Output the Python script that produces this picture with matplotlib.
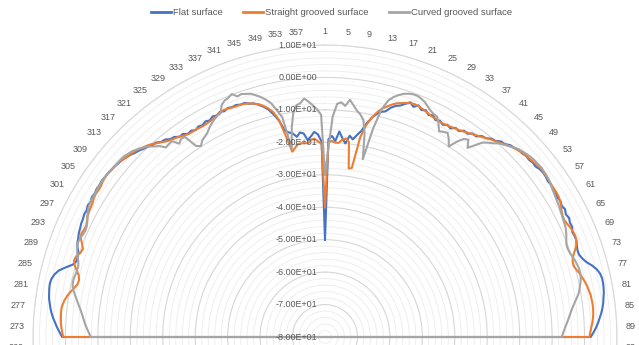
import numpy as np
import matplotlib
matplotlib.use("Agg")
import matplotlib.pyplot as plt
import matplotlib.transforms as mtransforms
from matplotlib.ticker import MultipleLocator
from matplotlib.lines import Line2D

# ---------------- data ----------------
categories = list(range(1, 361))
angle_labels = [str(k) for k in range(1, 361, 4)]
r_ticks = [-80, -70, -60, -50, -40, -30, -20, -10, 0, 10]
series_names = ["Flat surface", "Straight grooved surface", "Curved grooved surface"]

flat_surface = [
    # 1 - 91
    -50, -19, -18, -19.5, -16.5, -18.5, -20, -17.5, -18.5, -17,
    -15.5, -13, -11, -9.5, -8.5, -8, -6.5, -5.5, -5, -4,
    -3, -4, -3, -4, -3.5, -4.5, -4, -5, -4.5, -5.2,
    -4.5, -5, -4, -4.3, -3.3, -3.5, -2.5, -2.6, -1.4, -1.2,
    -0.2, 0.1, 1.1, 1.3, 2.2, 2.5, 3.1, 3.0, 3.4, 3.3,
    3.6, 3.5, 4.0, 4.2, 4.1, 3.8, 4.0, 3.7, 3.9, 3.5,
    3.8, 3.4, 3.8, 3.3, 3.7, 3.3, 3.4, 2.8, 3.0, 3.0,
    2.6, 2.3, 2.3, 2.9, 3.8, 5.2, 6.3, 7.0, 7.3, 7.3,
    7.2, 7.0, 6.7, 6.4, 6.0, 5.5, 4.9, 4.3, 3.6, 2.8,
    1.9,
    # 92 - 270
    -80, -80, -80, -80, -80, -80, -80, -80, -80, -80, -80, -80, -80, -80, -80, -80, -80, -80, -80, -80,
    -80, -80, -80, -80, -80, -80, -80, -80, -80, -80, -80, -80, -80, -80, -80, -80, -80, -80, -80, -80,
    -80, -80, -80, -80, -80, -80, -80, -80, -80, -80, -80, -80, -80, -80, -80, -80, -80, -80, -80, -80,
    -80, -80, -80, -80, -80, -80, -80, -80, -80, -80, -80, -80, -80, -80, -80, -80, -80, -80, -80, -80,
    -80, -80, -80, -80, -80, -80, -80, -80, -80, -80, -80, -80, -80, -80, -80, -80, -80, -80, -80, -80,
    -80, -80, -80, -80, -80, -80, -80, -80, -80, -80, -80, -80, -80, -80, -80, -80, -80, -80, -80, -80,
    -80, -80, -80, -80, -80, -80, -80, -80, -80, -80, -80, -80, -80, -80, -80, -80, -80, -80, -80, -80,
    -80, -80, -80, -80, -80, -80, -80, -80, -80, -80, -80, -80, -80, -80, -80, -80, -80, -80, -80, -80,
    -80, -80, -80, -80, -80, -80, -80, -80, -80, -80, -80, -80, -80, -80, -80, -80, -80, -80, -80,
    # 271 - 360
    1.0, 1.8, 2.6, 3.3, 4.0, 4.6, 5.1, 5.5, 5.9, 6.1,
    6.3, 6.4, 6.2, 5.6, 4.6, 2.8, 0.9, 0.1, 0.1, 0.4,
    1.2, 1.7, 2.0, 2.4, 2.6, 2.9, 3.0, 3.3, 3.2, 3.6,
    3.4, 3.8, 3.6, 3.9, 3.8, 4.0, 3.8, 3.8, 3.6, 3.5,
    3.2, 3.0, 2.6, 2.2, 1.6, 1.2, 0.6, 0.2, -0.5, -0.6,
    -1.5, -1.7, -2.6, -2.8, -3.7, -3.6, -4.5, -4.2, -4.8, -4.3,
    -4.6, -4.0, -4.4, -3.7, -4.0, -3.4, -3.8, -3.3, -3.6, -3.4,
    -3.8, -3.7, -4.4, -4.7, -5.5, -6.5, -7.7, -9.6, -11.8, -15.2,
    -16.0, -16.5, -17.7, -16.5, -16.9, -19.1, -18.0, -16.7, -17.5, -19.8,
]

straight_grooved = [
    # 1 - 91
    -40, -20, -19.5, -20, -20, -19, -18.5, -19.5, -27.5, -27.3,
    -17.5, -13.5, -11, -9, -7.5, -6.5, -5.5, -4.7, -4.2, -3.7,
    -3.3, -3.1, -3.2, -3.5, -3.8, -4.2, -4.5, -4.6, -4.8, -4.8,
    -4.7, -4.5, -4.3, -4.0, -3.6, -3.2, -2.7, -2.2, -1.7, -1.1,
    -0.5, 0.0, 0.6, 1.2, 1.8, 2.4, 2.8, 3.2, 3.4, 3.6,
    3.9, 4.2, 4.4, 4.4, 4.3, 4.2, 4.1, 4.1, 4.1, 4.0,
    3.7, 3.2, 2.6, 2.2, 2.1, 2.4, 2.8, 3.1, 3.2, 3.0,
    2.4, 1.4, 0.4, -0.2, -0.3, 0.2, 0.9, 1.4, 1.9, 2.3,
    2.6, 2.9, 3.0, 3.1, 3.1, 3.0, 2.8, 2.5, 2.1, 1.8,
    1.5,
    # 92 - 270
    -80, -80, -80, -80, -80, -80, -80, -80, -80, -80, -80, -80, -80, -80, -80, -80, -80, -80, -80, -80,
    -80, -80, -80, -80, -80, -80, -80, -80, -80, -80, -80, -80, -80, -80, -80, -80, -80, -80, -80, -80,
    -80, -80, -80, -80, -80, -80, -80, -80, -80, -80, -80, -80, -80, -80, -80, -80, -80, -80, -80, -80,
    -80, -80, -80, -80, -80, -80, -80, -80, -80, -80, -80, -80, -80, -80, -80, -80, -80, -80, -80, -80,
    -80, -80, -80, -80, -80, -80, -80, -80, -80, -80, -80, -80, -80, -80, -80, -80, -80, -80, -80, -80,
    -80, -80, -80, -80, -80, -80, -80, -80, -80, -80, -80, -80, -80, -80, -80, -80, -80, -80, -80, -80,
    -80, -80, -80, -80, -80, -80, -80, -80, -80, -80, -80, -80, -80, -80, -80, -80, -80, -80, -80, -80,
    -80, -80, -80, -80, -80, -80, -80, -80, -80, -80, -80, -80, -80, -80, -80, -80, -80, -80, -80, -80,
    -80, -80, -80, -80, -80, -80, -80, -80, -80, -80, -80, -80, -80, -80, -80, -80, -80, -80, -80,
    # 271 - 360
    0.7, 1.0, 1.3, 1.5, 1.6, 1.7, 1.7, 1.5, 1.1, 0.5,
    -0.3, -1.2, -2.0, -2.2, -1.8, -0.8, 0.3, 0.9, 0.6, -0.3,
    -0.6, 0.2, 1.2, 1.6, 1.3, 1.2, 1.6, 2.1, 2.4, 2.5,
    2.7, 3.1, 3.3, 3.2, 3.3, 3.6, 3.8, 3.8, 3.6, 3.4,
    3.4, 3.0, 2.6, 2.3, 2.0, 1.7, 1.1, 0.6, 0.0, -0.9,
    -1.6, -2.4, -2.9, -3.3, -3.6, -4.2, -4.6, -4.7, -4.7, -4.8,
    -4.9, -4.8, -4.7, -4.5, -4.0, -3.6, -3.4, -3.5, -3.7, -3.8,
    -3.8, -4.0, -4.3, -4.8, -5.3, -6.2, -7.3, -8.8, -11.5, -17.0,
    -22.0, -21.0, -20.0, -19.8, -20.0, -20.0, -19.0, -18.8, -19.7, -20.5,
]

curved_grooved = [
    # 1 - 91
    -30, -22, -12, -8, -7.5, -8.5, -6.5, -8, -9.5, -10.5,
    -12, -16, -24, -14, -7.5, -4.5, -3, -2, -1.2, -0.7,
    -0.4, -0.4, -0.8, -1.3, -2.2, -3.0, -3.6, -3.8, -5.5, -7.5,
    -7.0, -6.6, -8.0, -10.0, -7.4, -5.5, -4.8, -7.0, -5.0, -2.9,
    -1.8, -0.9, 0.3, 1.0, 1.8, 2.5, 3.2, 3.6, 4.0, 4.3,
    4.5, 4.6, 4.7, 4.6, 4.5, 4.3, 4.0, 3.6, 3.3, 3.0,
    2.8, 2.6, 2.3, 2.0, 1.8, 1.6, 1.3, 0.8, 0.2, -0.3,
    -0.4, -0.2, 0.2, 0.6, 0.9, 1.1, 1.1, 0.9, 0.5, 0.0,
    -0.5, -1.3, -2.2, -3.0, -3.7, -4.3, -4.9, -5.5, -6.1, -6.6,
    -7.0,
    # 92 - 270
    -80, -80, -80, -80, -80, -80, -80, -80, -80, -80, -80, -80, -80, -80, -80, -80, -80, -80, -80, -80,
    -80, -80, -80, -80, -80, -80, -80, -80, -80, -80, -80, -80, -80, -80, -80, -80, -80, -80, -80, -80,
    -80, -80, -80, -80, -80, -80, -80, -80, -80, -80, -80, -80, -80, -80, -80, -80, -80, -80, -80, -80,
    -80, -80, -80, -80, -80, -80, -80, -80, -80, -80, -80, -80, -80, -80, -80, -80, -80, -80, -80, -80,
    -80, -80, -80, -80, -80, -80, -80, -80, -80, -80, -80, -80, -80, -80, -80, -80, -80, -80, -80, -80,
    -80, -80, -80, -80, -80, -80, -80, -80, -80, -80, -80, -80, -80, -80, -80, -80, -80, -80, -80, -80,
    -80, -80, -80, -80, -80, -80, -80, -80, -80, -80, -80, -80, -80, -80, -80, -80, -80, -80, -80, -80,
    -80, -80, -80, -80, -80, -80, -80, -80, -80, -80, -80, -80, -80, -80, -80, -80, -80, -80, -80, -80,
    -80, -80, -80, -80, -80, -80, -80, -80, -80, -80, -80, -80, -80, -80, -80, -80, -80, -80, -80,
    # 271 - 360
    -7.8, -7.2, -6.6, -6.0, -5.5, -5.0, -4.4, -3.7, -3.0, -2.3,
    -1.5, -0.8, -0.5, -0.5, -0.7, -0.9, -0.9, -0.5, 0.2, 0.8,
    1.3, 1.5, 1.4, 1.0, 0.8, 1.0, 1.5, 2.2, 2.8, 3.2,
    3.4, 3.5, 3.5, 3.7, 3.8, 3.9, 3.9, 3.8, 3.6, 3.5,
    3.4, 3.4, 3.3, 2.9, 2.5, 1.8, 1.0, 0.3, -1.0, -2.0,
    -3.7, -3.5, -3.4, -5.4, -4.5, -4.7, -9.0, -9.8, -8.6, -8.0,
    -7.4, -6.4, -5.5, -4.8, -4.2, -3.9, -1.7, -0.8, -0.5, 0.2,
    -1.1, -0.8, -1.2, -1.6, -2.5, -3.4, -4.6, -6.0, -8.5, -11.0,
    -21.0, -14.5, -10.0, -8.0, -7.5, -6.2, -7.3, -8.5, -9.8, -11.5,
]

assert len(flat_surface) == 360 and len(straight_grooved) == 360 and len(curved_grooved) == 360

# ---------------- style ----------------
plt.rcParams['font.family'] = ['Liberation Sans', 'DejaVu Sans']
colors = ['#4472C4', '#ED7D31', '#A5A5A5']
text_color = '#595959'
fs = 6.5

fig = plt.figure(figsize=(6.39, 3.45), dpi=100)
fig.patch.set_facecolor('white')
ax = fig.add_axes([0.05164, -0.82319, 0.91393, 1.69275], projection='polar')
ax.set_theta_zero_location('N')
ax.set_theta_direction(-1)
ax.set_ylim(r_ticks[0], r_ticks[-1])

ax.set_yticks(r_ticks)
ax.set_yticklabels([])
ax.yaxis.set_minor_locator(MultipleLocator(2))
ax.yaxis.grid(True, which='major', color='#d6d6d6', linewidth=0.8)
ax.yaxis.grid(True, which='minor', color='#ececec', linewidth=0.6)
ax.set_xticks(np.deg2rad(np.arange(0, 360, 4)))
ax.set_xticklabels([])
ax.xaxis.grid(False)
ax.tick_params(axis='both', which='both', length=0)
ax.spines['polar'].set_color('#d9d9d9')
ax.spines['polar'].set_linewidth(0.8)

theta = np.deg2rad(np.array(categories) - 1)
theta_c = np.append(theta, theta[0])
for vals, col, z in zip([flat_surface, straight_grooved, curved_grooved], colors, [3, 4, 5]):
    v = np.append(np.array(vals, dtype=float), vals[0])
    ax.plot(theta_c, v, color=col, linewidth=1.5, solid_joinstyle='round', zorder=z)

# radial value labels along the vertical axis
for rv in r_ticks:
    tr = mtransforms.offset_copy(ax.transData, fig=fig, x=-8, y=0, units='dots')
    ax.text(0, rv, f"{rv:.2E}", transform=tr, ha='right', va='center',
            fontsize=fs, color=text_color, zorder=6)

# category labels (every 4th category, as in the radar chart)
for lab in angle_labels:
    ang = int(lab) - 1
    th = np.deg2rad(ang)
    s, c = np.sin(th), np.cos(th)
    if abs(s) < 0.03:
        ha = 'center'
    elif s > 0:
        ha = 'left'
    else:
        ha = 'right'
    tr = mtransforms.offset_copy(ax.transData, fig=fig, x=0, y=4 * c, units='dots')
    ax.text(th, r_ticks[-1] + 2.8, lab, transform=tr, ha=ha, va='center',
            fontsize=fs, color=text_color)

handles = [Line2D([0], [0], color=c, linewidth=2.0) for c in colors]
fig.legend(handles, series_names, loc='center', bbox_to_anchor=(0.519, 0.963), ncol=3,
           frameon=False, fontsize=fs + 0.3, handlelength=2.1, columnspacing=2.2,
           handletextpad=0.2, labelcolor=text_color)

fig.savefig('out.png', dpi=100, facecolor='white')
